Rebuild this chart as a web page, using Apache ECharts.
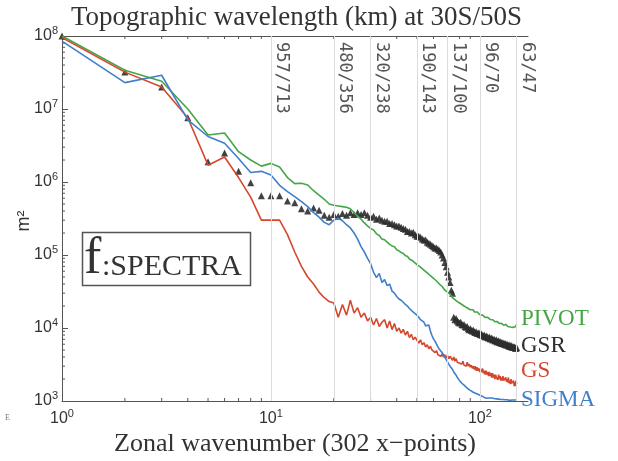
<!DOCTYPE html>
<html><head><meta charset="utf-8">
<script src="https://cdn.jsdelivr.net/npm/echarts@6/dist/echarts.min.js"></script>
<style>html,body{margin:0;padding:0;background:#fff}#c{width:618px;height:461px}</style>
</head><body><div id="c"></div>
<script>
// Zonal wavenumbers 1..150
const wavenumber = Array.from({length: 150}, (_, i) => i + 1);

const pivot = [
  1.0e8, 3.4e7, 2.4e7, 1.0e7, 4.4e6, 4.7e6, 2.6e6, 2.0e6, 1.65e6, 1.8e6,
  1.6e6, 1.15e6, 9.5e5, 9.6e5, 9.1e5, 7.6e5, 6.6e5, 5.8e5, 5.0e5, 4.8e5,
  4.7e5, 4.6e5, 4.5e5, 4.3e5, 3.8e5, 3.4e5, 3.1e5, 2.75e5, 2.5e5, 2.3e5,
  2.2e5, 1.95e5, 1.85e5, 1.65e5, 1.62e5, 1.5e5, 1.4e5, 1.33e5, 1.3e5, 1.18e5,
  1.14e5, 1.08e5, 1.05e5, 9.8e4, 9.6e4, 8.8e4, 8.7e4, 8.2e4, 7.8e4, 7.4e4,
  7.3e4, 6.8e4, 6.7e4, 6.2e4, 6.1e4, 5.7e4, 5.6e4, 5.2e4, 5.2e4, 4.8e4,
  4.8e4, 4.4e4, 4.4e4, 4.0e4, 4.0e4, 3.7e4, 3.6e4, 3.3e4, 3.4e4, 3.1e4,
  3.2e4, 2.9e4, 2.9e4, 2.6e4, 2.7e4, 2.45e4, 2.5e4, 2.3e4, 2.4e4, 2.2e4,
  2.3e4, 2.1e4, 2.2e4, 2.0e4, 2.1e4, 1.92e4, 2.0e4, 1.85e4, 1.9e4, 1.78e4,
  1.84e4, 1.72e4, 1.78e4, 1.66e4, 1.72e4, 1.6e4, 1.66e4, 1.56e4, 1.6e4, 1.52e4,
  1.55e4, 1.47e4, 1.5e4, 1.44e4, 1.46e4, 1.4e4, 1.43e4, 1.37e4, 1.4e4, 1.34e4,
  1.36e4, 1.31e4, 1.34e4, 1.28e4, 1.3e4, 1.25e4, 1.28e4, 1.22e4, 1.25e4, 1.2e4,
  1.23e4, 1.17e4, 1.2e4, 1.15e4, 1.18e4, 1.13e4, 1.16e4, 1.11e4, 1.15e4, 1.09e4,
  1.13e4, 1.08e4, 1.12e4, 1.06e4, 1.1e4, 1.05e4, 1.09e4, 1.04e4, 1.08e4, 1.03e4,
  1.07e4, 1.02e4, 1.06e4, 1.02e4, 1.06e4, 1.03e4, 1.07e4, 1.04e4, 1.1e4, 1.12e4
];

const gsr = [
  1.0e8, 3.2e7, 2.0e7, 7.6e6, 1.9e6, 2.5e6, 1.4e6, 9.8e5, 6.5e5, 6.5e5,
  6.5e5, 5.5e5, 5.2e5, 4.3e5, 4.0e5, 4.4e5, 4.1e5, 3.5e5, 3.3e5, 3.6e5,
  3.4e5, 3.7e5, 3.5e5, 3.8e5, 3.6e5, 3.8e5, 3.6e5, 3.8e5, 3.5e5, 3.3e5,
  3.4e5, 3.1e5, 3.2e5, 3.0e5, 2.9e5, 2.9e5, 2.7e5, 2.7e5, 2.6e5, 2.5e5,
  2.5e5, 2.4e5, 2.3e5, 2.25e5, 2.1e5, 2.1e5, 2.0e5, 2.05e5, 1.9e5, 1.8e5,
  1.8e5, 1.75e5, 1.65e5, 1.6e5, 1.6e5, 1.5e5, 1.45e5, 1.4e5, 1.35e5, 1.3e5,
  1.25e5, 1.25e5, 1.2e5, 1.15e5, 1.1e5, 1.0e5, 9.1e4, 7.9e4, 6.9e4, 5.8e4,
  5.0e4, 4.2e4, 3.3e4, 3.0e4, 1.4e4, 1.3e4, 1.35e4, 1.25e4, 1.2e4, 1.17e4,
  1.2e4, 1.12e4, 1.1e4, 1.12e4, 1.05e4, 1.02e4, 1.05e4, 9.8e3, 9.5e3, 9.8e3,
  9.3e3, 9.1e3, 9.4e3, 8.9e3, 8.7e3, 8.9e3, 8.5e3, 8.4e3, 8.6e3, 8.2e3,
  8.1e3, 8.3e3, 7.9e3, 7.8e3, 8.0e3, 7.6e3, 7.6e3, 7.8e3, 7.4e3, 7.3e3,
  7.5e3, 7.1e3, 7.1e3, 7.3e3, 6.9e3, 6.9e3, 7.0e3, 6.7e3, 6.7e3, 6.9e3,
  6.5e3, 6.5e3, 6.7e3, 6.4e3, 6.3e3, 6.5e3, 6.2e3, 6.2e3, 6.3e3, 6.1e3,
  6.0e3, 6.2e3, 5.9e3, 5.9e3, 6.0e3, 5.8e3, 5.7e3, 5.9e3, 5.6e3, 5.6e3,
  5.8e3, 5.5e3, 5.5e3, 5.6e3, 5.4e3, 5.4e3, 5.5e3, 5.3e3, 5.3e3, 5.4e3
];

const gs = [
  9.5e7, 3.2e7, 2.0e7, 7.6e6, 1.7e6, 2.2e6, 1.15e6, 6.2e5, 3.0e5, 3.0e5,
  3.0e5, 1.9e5, 1.1e5, 7.0e4, 5.0e4, 4.0e4, 3.1e4, 2.6e4, 2.3e4, 2.2e4,
  1.4e4, 2.1e4, 1.5e4, 2.4e4, 1.6e4, 1.9e4, 1.4e4, 1.6e4, 1.25e4, 1.4e4,
  1.1e4, 1.35e4, 1.05e4, 1.2e4, 1.3e4, 1.0e4, 1.25e4, 9.5e3, 1.15e4, 9.0e3,
  1.0e4, 8.5e3, 9.6e3, 8.0e3, 9.0e3, 7.4e3, 8.2e3, 6.9e3, 7.5e3, 6.8e3,
  6.2e3, 6.9e3, 5.9e3, 6.3e3, 5.5e3, 5.9e3, 5.2e3, 5.6e3, 5.0e3, 5.1e3,
  4.6e3, 4.9e3, 4.3e3, 4.5e3, 4.1e3, 4.4e3, 4.0e3, 4.3e3, 3.9e3, 4.2e3,
  3.8e3, 4.1e3, 3.9e3, 3.6e3, 4.0e3, 3.5e3, 3.8e3, 3.4e3, 3.6e3, 3.3e3,
  3.5e3, 3.2e3, 3.5e3, 3.1e3, 3.3e3, 3.0e3, 3.4e3, 3.0e3, 3.2e3, 2.9e3,
  3.1e3, 2.8e3, 3.0e3, 2.7e3, 3.0e3, 2.6e3, 2.9e3, 2.6e3, 2.8e3, 2.5e3,
  2.7e3, 2.5e3, 2.8e3, 2.4e3, 2.6e3, 2.3e3, 2.6e3, 2.3e3, 2.5e3, 2.2e3,
  2.5e3, 2.2e3, 2.4e3, 2.1e3, 2.4e3, 2.1e3, 2.3e3, 2.0e3, 2.3e3, 2.1e3,
  2.2e3, 1.95e3, 2.3e3, 2.0e3, 2.2e3, 1.9e3, 2.1e3, 1.9e3, 2.2e3, 1.9e3,
  2.0e3, 1.8e3, 2.1e3, 1.85e3, 2.0e3, 1.8e3, 2.1e3, 1.75e3, 1.9e3, 1.7e3,
  2.0e3, 1.75e3, 1.85e3, 1.65e3, 1.9e3, 1.6e3, 1.8e3, 1.6e3, 1.9e3, 1.7e3
];

const sigma = [
  8.5e7, 2.3e7, 2.9e7, 7.1e6, 4.2e6, 3.4e6, 2.1e6, 1.35e6, 1.4e6, 1.25e6,
  9.0e5, 7.4e5, 6.3e5, 5.4e5, 4.6e5, 3.8e5, 3.3e5, 2.8e5, 2.6e5, 3.0e5,
  3.2e5, 2.95e5, 2.6e5, 2.35e5, 2.0e5, 1.65e5, 1.3e5, 1.1e5, 9.0e4, 7.6e4,
  5.8e4, 4.9e4, 5.6e4, 4.2e4, 4.6e4, 3.8e4, 4.0e4, 3.2e4, 3.0e4, 2.7e4,
  2.5e4, 2.4e4, 2.25e4, 2.1e4, 2.0e4, 1.85e4, 1.75e4, 1.65e4, 1.6e4, 1.5e4,
  1.4e4, 1.3e4, 1.25e4, 1.2e4, 1.07e4, 1.05e4, 1.1e4, 9.0e3, 7.9e3, 7.1e3,
  6.6e3, 6.0e3, 5.5e3, 5.1e3, 4.8e3, 4.6e3, 4.3e3, 4.0e3, 3.7e3, 3.5e3,
  3.2e3, 3.0e3, 2.9e3, 2.7e3, 2.5e3, 2.35e3, 2.25e3, 2.1e3, 2.0e3, 1.9e3,
  1.85e3, 1.75e3, 1.7e3, 1.65e3, 1.6e3, 1.55e3, 1.5e3, 1.46e3, 1.42e3, 1.4e3,
  1.35e3, 1.38e3, 1.32e3, 1.3e3, 1.33e3, 1.27e3, 1.25e3, 1.28e3, 1.22e3, 1.2e3,
  1.24e3, 1.17e3, 1.15e3, 1.19e3, 1.12e3, 1.15e3, 1.1e3, 1.09e3, 1.13e3, 1.07e3,
  1.1e3, 1.06e3, 1.07e3, 1.1e3, 1.05e3, 1.06e3, 1.08e3, 1.04e3, 1.05e3, 1.07e3,
  1.03e3, 1.04e3, 1.06e3, 1.02e3, 1.03e3, 1.05e3, 1.02e3, 1.03e3, 1.05e3, 1.02e3,
  1.03e3, 1.04e3, 1.02e3, 1.03e3, 1.04e3, 1.02e3, 1.03e3, 1.04e3, 1.02e3, 1.03e3,
  1.03e3, 1.02e3, 1.03e3, 1.02e3, 1.03e3, 1.02e3, 1.03e3, 1.02e3, 1.03e3, 1.04e3
];

// Wavelength reference lines (wavenumber and label "km at 30S / km at 50S")
const refWavenumbers = [10, 20, 30, 50, 70, 100, 150];
const refLabels = ['957/713', '480/356', '320/238', '190/143', '137/100', '96/70', '63/47'];

const xTickValues = [1, 10, 100];
const yTickValues = [1e3, 1e4, 1e5, 1e6, 1e7, 1e8];
const xMinorTicks = [2, 3, 4, 5, 6, 7, 8, 9, 20, 30, 40, 50, 60, 70, 80, 90];
const yMinorTicks = [];
[1e3, 1e4, 1e5, 1e6, 1e7].forEach(d => { for (let m = 2; m <= 9; m++) yMinorTicks.push(m * d); });

const seriesColors = ['#46a546', '#2e2e2e', '#d5472d', '#3f7fcc'];

const serif = "'Liberation Serif', 'DejaVu Serif', serif";
const sans = "'Liberation Sans', Arial, sans-serif";

function powLabel(v) {
  const e = Math.round(Math.log10(v));
  return '{b|10}{s|' + e + '}';
}
const powRich = {
  b: { fontSize: 16, fontFamily: sans, color: '#333' },
  s: { fontSize: 11, fontFamily: sans, color: '#333', padding: [0, 0, 10, 0] }
};

const pairs = arr => wavenumber.map((k, i) => [k, arr[i]]);

const chart = echarts.init(document.getElementById('c'), null, { renderer: 'canvas' });

const tickStyle = { stroke: '#555', lineWidth: 1 };

chart.setOption({
  animation: false,
  backgroundColor: '#fff',
  title: {
    text: 'Topographic wavelength (km) at 30S/50S',
    left: 66, top: -1,
    textStyle: { fontFamily: serif, fontSize: 27, fontWeight: 'normal', color: '#333' }
  },
  grid: { left: 62, top: 36, right: 90, bottom: 60, containLabel: false, outerBoundsMode: 'none' },
  xAxis: [{
    type: 'log', logBase: 10, min: 1, max: 170, position: 'bottom',
    axisLine: { lineStyle: { color: '#555', width: 1 } },
    axisTick: { inside: true, length: 6, customValues: xTickValues, lineStyle: { color: '#555' } },
    axisLabel: { customValues: xTickValues, formatter: powLabel, rich: powRich, margin: 7 },
    splitLine: { show: false }, minorTick: { show: false },
    name: 'Zonal wavenumber (302 x\u2212points)', nameLocation: 'middle', nameGap: 27,
    nameTextStyle: { fontFamily: serif, fontSize: 26, color: '#333' }
  }, {
    type: 'log', logBase: 10, min: 1, max: 170, position: 'top',
    axisLine: { lineStyle: { color: '#555', width: 1 } },
    axisTick: { inside: true, length: 6, customValues: xTickValues, lineStyle: { color: '#555' } },
    axisLabel: { show: false }, splitLine: { show: false }
  }],
  yAxis: {
    type: 'log', logBase: 10, min: 1e3, max: 1e8,
    axisLine: { lineStyle: { color: '#555', width: 1 } },
    axisTick: { inside: true, length: 6, customValues: yTickValues, lineStyle: { color: '#555' } },
    axisLabel: { customValues: yTickValues, formatter: powLabel, rich: powRich, margin: 4 },
    splitLine: { show: false }
  },
  series: [
    {
      name: 'refLines', type: 'line', data: [], silent: true,
      markLine: {
        silent: true, symbol: ['none', 'none'], animation: false,
        lineStyle: { color: '#dcdcdc', width: 1, type: 'solid' },
        label: {
          show: true, position: 'insideStartTop', formatter: '{b}',
          color: '#555', fontFamily: "'DejaVu Sans Mono', monospace", fontSize: 17, distance: [6, 2]
        },
        data: refWavenumbers.map((k, i) => [
          { name: refLabels[i], coord: [k, 1e8] },
          { coord: [k, 1e3] }
        ])
      }
    },
    {
      name: 'minorX', type: 'custom', silent: true, clip: false,
      data: xMinorTicks.map(v => [v, 1e3]),
      renderItem: (params, api) => {
        const b = api.coord([api.value(0), 1e3]);
        const t = api.coord([api.value(0), 1e8]);
        return { type: 'group', children: [
          { type: 'line', shape: { x1: b[0], y1: b[1], x2: b[0], y2: b[1] - 3 }, style: tickStyle },
          { type: 'line', shape: { x1: t[0], y1: t[1], x2: t[0], y2: t[1] + 3 }, style: tickStyle }
        ] };
      }
    },
    {
      name: 'minorY', type: 'custom', silent: true, clip: false,
      data: yMinorTicks.map(v => [1, v]),
      renderItem: (params, api) => {
        const p = api.coord([1, api.value(1)]);
        return { type: 'line', shape: { x1: p[0], y1: p[1], x2: p[0] + 3, y2: p[1] }, style: tickStyle };
      }
    },
    {
      name: 'PIVOT', type: 'line', data: pairs(pivot), showSymbol: false,
      lineStyle: { color: seriesColors[0], width: 1.6 }, itemStyle: { color: seriesColors[0] }
    },
    {
      name: 'GS', type: 'line', data: pairs(gs), showSymbol: false,
      lineStyle: { color: seriesColors[2], width: 1.6 }, itemStyle: { color: seriesColors[2] }
    },
    {
      name: 'SIGMA', type: 'line', data: pairs(sigma), showSymbol: false,
      lineStyle: { color: seriesColors[3], width: 1.6 }, itemStyle: { color: seriesColors[3] }
    },
    {
      name: 'GSR', type: 'scatter', data: pairs(gsr), symbol: 'triangle', symbolSize: 7,
      itemStyle: { color: seriesColors[1], opacity: 0.9 }
    }
  ],
  graphic: [
    { type: 'text', x: 24, y: 221, rotation: Math.PI / 2,
      style: { text: 'm\u00B2', fontFamily: sans, fontSize: 18, fill: '#333', align: 'center', verticalAlign: 'middle' } },
    { type: 'rect', left: 80, top: 230, shape: { width: 168, height: 53 },
      style: { fill: 'none', stroke: '#555', lineWidth: 1.5 } },
    { type: 'text', left: 84, top: 233,
      style: { text: 'f', fontFamily: serif, fontSize: 52, fill: '#333' } },
    { type: 'text', left: 102, top: 252,
      style: { text: ':SPECTRA', fontFamily: serif, fontSize: 30, fill: '#333' } },
    { type: 'text', left: 521, top: 307,
      style: { text: 'PIVOT', fontFamily: serif, fontSize: 23, fill: seriesColors[0] } },
    { type: 'text', left: 521, top: 334,
      style: { text: 'GSR', fontFamily: serif, fontSize: 23, fill: seriesColors[1] } },
    { type: 'text', left: 521, top: 359,
      style: { text: 'GS', fontFamily: serif, fontSize: 23, fill: seriesColors[2] } },
    { type: 'text', left: 521, top: 388,
      style: { text: 'SIGMA', fontFamily: serif, fontSize: 23, fill: seriesColors[3] } },
    { type: 'text', left: 5, top: 414,
      style: { text: 'E', fontFamily: serif, fontSize: 8, fill: '#777' } }
  ]
});
</script>
</body></html>
